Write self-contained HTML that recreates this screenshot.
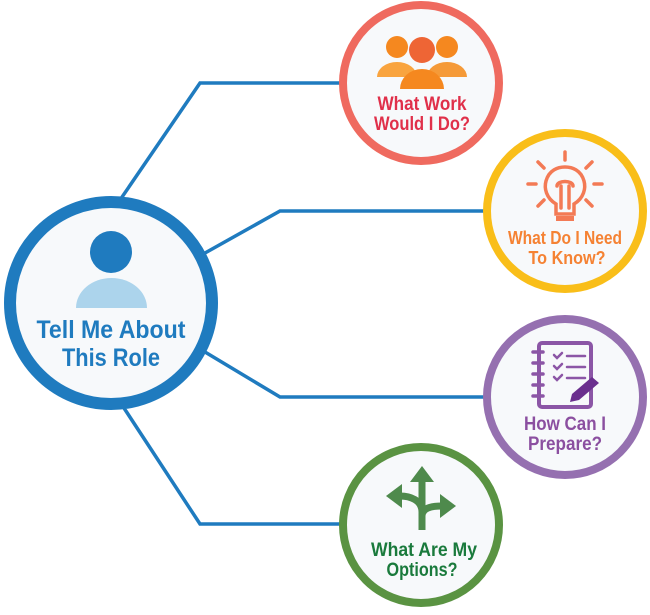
<!DOCTYPE html>
<html><head><meta charset="utf-8"><style>
html,body{margin:0;padding:0;background:#fff;}
text{font-family:"Liberation Sans",sans-serif;font-weight:bold;text-anchor:middle;}
</style></head><body>
<svg width="650" height="610" viewBox="0 0 650 610" xmlns="http://www.w3.org/2000/svg">
<g fill="none" stroke="#1f7bbf" stroke-width="3.5">
<polyline points="120,200 200,83 342,83"/>
<polyline points="205,253 280,211 485,211"/>
<polyline points="205,352 280,397 485,397"/>
<polyline points="122,405 200,524 342,524"/>
</g>
<!-- main -->
<circle cx="111" cy="303" r="101" fill="#f7f9fb" stroke="#1f7bbf" stroke-width="12"/>
<circle cx="111" cy="252" r="21" fill="#1f7bbf"/>
<path d="M76,308 A35.5,30 0 0 1 147,308 Z" fill="#acd4ec"/>
<text x="111" y="338" font-size="25" fill="#1f7bbf" textLength="149" lengthAdjust="spacingAndGlyphs">Tell Me About</text>
<text x="111" y="366" font-size="25" fill="#1f7bbf" textLength="98" lengthAdjust="spacingAndGlyphs">This Role</text>
<!-- red -->
<circle cx="421" cy="83" r="78" fill="#f7f9fb" stroke="#ef6a5f" stroke-width="8"/>
<circle cx="397" cy="47" r="11" fill="#f5881f"/>
<circle cx="447" cy="47" r="11" fill="#f5881f"/>
<path d="M377,77 A20,15 0 0 1 417,77 Z" fill="#f9a43f"/>
<path d="M427,77 A20,15 0 0 1 467,77 Z" fill="#f59a38"/>
<circle cx="422" cy="50" r="13" fill="#ee6535"/>
<path d="M400,89 A22,20 0 0 1 444,89 Z" fill="#f5881f"/>
<text x="422" y="110" font-size="19" fill="#e0304a" textLength="89" lengthAdjust="spacingAndGlyphs">What Work</text>
<text x="422" y="130" font-size="19" fill="#e0304a" textLength="96" lengthAdjust="spacingAndGlyphs">Would I Do?</text>
<!-- yellow -->
<circle cx="565" cy="211" r="78" fill="#f7f9fb" stroke="#f9be19" stroke-width="8"/>
<g stroke="#f37a55" stroke-width="3.5" fill="none" stroke-linecap="round">
<line x1="565" y1="152" x2="565" y2="160"/>
<line x1="538" y1="162" x2="544" y2="168"/>
<line x1="592" y1="162" x2="586" y2="168"/>
<line x1="528" y1="184" x2="536" y2="184"/>
<line x1="602" y1="184" x2="594" y2="184"/>
<line x1="538" y1="206" x2="544" y2="200"/>
<line x1="592" y1="206" x2="586" y2="200"/>
<path d="M556,214 L556,204 C546,198 544,188 546,181 C549,170 558,167 565,167 C572,167 581,170 584,181 C586,188 584,198 574,204 L574,214 Z"/>
<path d="M561,208 L561,186 M569,208 L569,186 M557,186 C557,180 573,180 573,186"/>
</g>
<rect x="556" y="216" width="18" height="5" fill="#f37a55"/>
<text x="565" y="244" font-size="18" fill="#f58233" textLength="114" lengthAdjust="spacingAndGlyphs">What Do I Need</text>
<text x="567" y="264" font-size="18" fill="#f58233" textLength="77" lengthAdjust="spacingAndGlyphs">To Know?</text>
<!-- purple -->
<circle cx="565" cy="397" r="78" fill="#f7f9fb" stroke="#9570b0" stroke-width="8"/>
<rect x="539" y="343" width="52" height="64" rx="3" fill="none" stroke="#8b56a6" stroke-width="4"/>
<g stroke="#8b56a6" stroke-width="3.5" stroke-linecap="round" fill="none">
<line x1="533" y1="352" x2="543" y2="352"/><line x1="533" y1="363" x2="543" y2="363"/>
<line x1="533" y1="374" x2="543" y2="374"/><line x1="533" y1="385" x2="543" y2="385"/>
<line x1="533" y1="396" x2="543" y2="396"/>
<path d="M554,355 l3,3 5,-5 M554,366 l3,3 5,-5 M554,377 l3,3 5,-5" stroke-width="2.5"/>
<line x1="567" y1="356" x2="585" y2="356" stroke-width="2.5"/>
<line x1="567" y1="367" x2="585" y2="367" stroke-width="2.5"/>
<line x1="567" y1="378" x2="585" y2="378" stroke-width="2.5"/>
</g>
<path d="M592,377 L599,383 L579,400 L570,402 L572,394 Z" fill="#6a2f8e"/>
<text x="565" y="430" font-size="19" fill="#8b4fa0" textLength="82" lengthAdjust="spacingAndGlyphs">How Can I</text>
<text x="565" y="450" font-size="19" fill="#8b4fa0" textLength="74" lengthAdjust="spacingAndGlyphs">Prepare?</text>
<!-- green -->
<circle cx="421" cy="525" r="78" fill="#f7f9fb" stroke="#5a9342" stroke-width="8"/>
<g fill="none" stroke="#4e8a4c" stroke-width="7">
<line x1="422" y1="478" x2="422" y2="530"/>
<path d="M422,512 C422,500 410,496 400,496"/>
<path d="M422,516 C422,508 432,506 442,506"/>
</g>
<g fill="#4e8a4c">
<path d="M422,466 L434,482 L410,482 Z"/>
<path d="M386,496 L402,484 L402,508 Z"/>
<path d="M456,506 L440,494 L440,518 Z"/>
</g>
<text x="424" y="556" font-size="19" fill="#1a7a3c" textLength="106" lengthAdjust="spacingAndGlyphs">What Are My</text>
<text x="422" y="576" font-size="19" fill="#1a7a3c" textLength="71" lengthAdjust="spacingAndGlyphs">Options?</text>
</svg>
</body></html>
